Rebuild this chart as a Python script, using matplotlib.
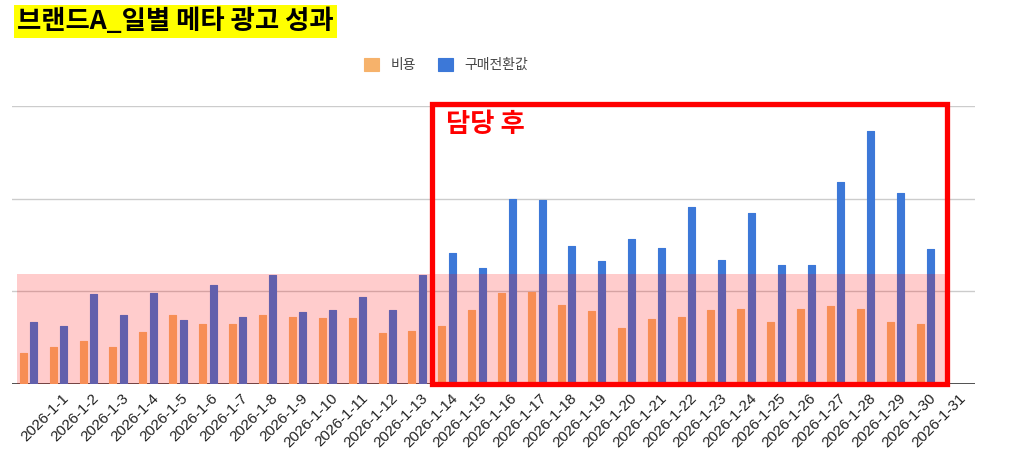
import numpy as np
import matplotlib
matplotlib.use("Agg")
import matplotlib.pyplot as plt
from matplotlib.patches import Rectangle
from matplotlib.transforms import ScaledTranslation

# ---------------- data ----------------
dates = [f"2026-1-{d}" for d in range(1, 32)]
cost = [33.8, 39.6, 46.4, 39.6, 56.1, 74.4, 64.7, 64.7, 74.4, 72.6,
        71.5, 71.5, 54.7, 57.5, 62.9, 79.8, 97.8, 99.6, 85.5, 78.4,
        60.4, 70.1, 72.6, 79.8, 81.2, 67.2, 81.2, 83.8, 81.2, 67.2, 64.4]
conv_value = [67.2, 62.9, 96.8, 74.4, 97.8, 68.7, 106.5, 72.6, 117.6, 77.3,
              79.8, 94.2, 79.8, 117.6, 141.0, 125.5, 199.6, 198.5, 149.2, 132.7,
              156.4, 146.4, 191.3, 133.8, 184.1, 128.4, 128.4, 217.9, 273.2, 206.4, 145.3]
series_names = ["비용", "구매전환값"]
band_level = 119          # pink reference band height
after_start = 14          # index of first day in "담당 후" box
title = "브랜드A_일별 메타 광고 성과"
box_label = "담당 후"

# ---------------- style ----------------
W, H, DPI = 1024, 476, 100
ORANGE = "#F6B26B"
BLUE = "#3C78D8"
KR = ["Noto Sans CJK KR", "DejaVu Sans"]

plt.rcParams["font.family"] = KR

fig = plt.figure(figsize=(W / DPI, H / DPI), dpi=DPI)
ax_left, ax_right, ax_top, ax_bot = 12, 975, 106, 384
ax = fig.add_axes([ax_left / W, 1 - ax_bot / H, (ax_right - ax_left) / W, (ax_bot - ax_top) / H])

n = len(dates)
idx = np.arange(n)
step = 29.9
first_center = 28.5
bw = 7.0 / step
off = 5.2 / step

ax.bar(idx - off, cost, width=bw, color=ORANGE, edgecolor=ORANGE, linewidth=0.8,
       joinstyle="round", zorder=2, label=series_names[0])
ax.bar(idx + off, conv_value, width=bw, color=BLUE, edgecolor=BLUE, linewidth=0.8,
       joinstyle="round", zorder=2, label=series_names[1])

ax.set_xlim(-(first_center - ax_left) / step, (ax_right - first_center) / step)
ax.set_ylim(0, 300)

for y in (100, 200, 300):
    ax.axhline(y, color="#cccccc", lw=1, zorder=1)
ax.axhline(0, color="#333333", lw=1.2, zorder=1)

for s in ax.spines.values():
    s.set_visible(False)
ax.set_yticks([])
ax.set_xticks(idx)
ax.set_xticklabels(dates, rotation=45, ha="right", va="top", rotation_mode="anchor",
                   fontsize=11, color="#222222", family=["Liberation Sans", "DejaVu Sans"])
ax.tick_params(axis="x", length=0, pad=2)
shift = ScaledTranslation(33 / DPI, -4 / DPI, fig.dpi_scale_trans)
for lab in ax.get_xticklabels():
    lab.set_transform(lab.get_transform() + shift)

# pink band overlay (drawn above bars)
band_x0 = (17 - first_center) / step
band_x1 = (950 - first_center) / step
ax.add_patch(Rectangle((band_x0, 0), band_x1 - band_x0, band_level,
                       facecolor=(1, 0, 0, 0.2), edgecolor="none", zorder=3))

# red "after" box
box_x0 = after_start - 0.5
box_x1 = (947 - first_center) / step
ax.add_patch(Rectangle((box_x0, 0), box_x1 - box_x0, 302, fill=False,
                       edgecolor="#FF0000", lw=3.8, zorder=4, clip_on=False))
ax.text((446 - first_center) / step, (384 - 124) / 0.927, box_label, color="#FF0000",
        fontsize=19, fontweight="bold", va="center", ha="left", zorder=5)

# legend
fig.legend(loc="center", bbox_to_anchor=(446 / W, 1 - 65 / H), ncol=2, frameon=False,
           fontsize=10, handlelength=1.1, handleheight=1.1, handletextpad=0.8,
           columnspacing=1.6, labelcolor="#444444")

# title
fig.text(17 / W, 1 - 21.5 / H, title, fontsize=19, fontweight="bold", color="black",
         va="center", ha="left",
         bbox=dict(facecolor="#FFFF00", edgecolor="none", pad=2))

fig.savefig("out.png", dpi=DPI)
